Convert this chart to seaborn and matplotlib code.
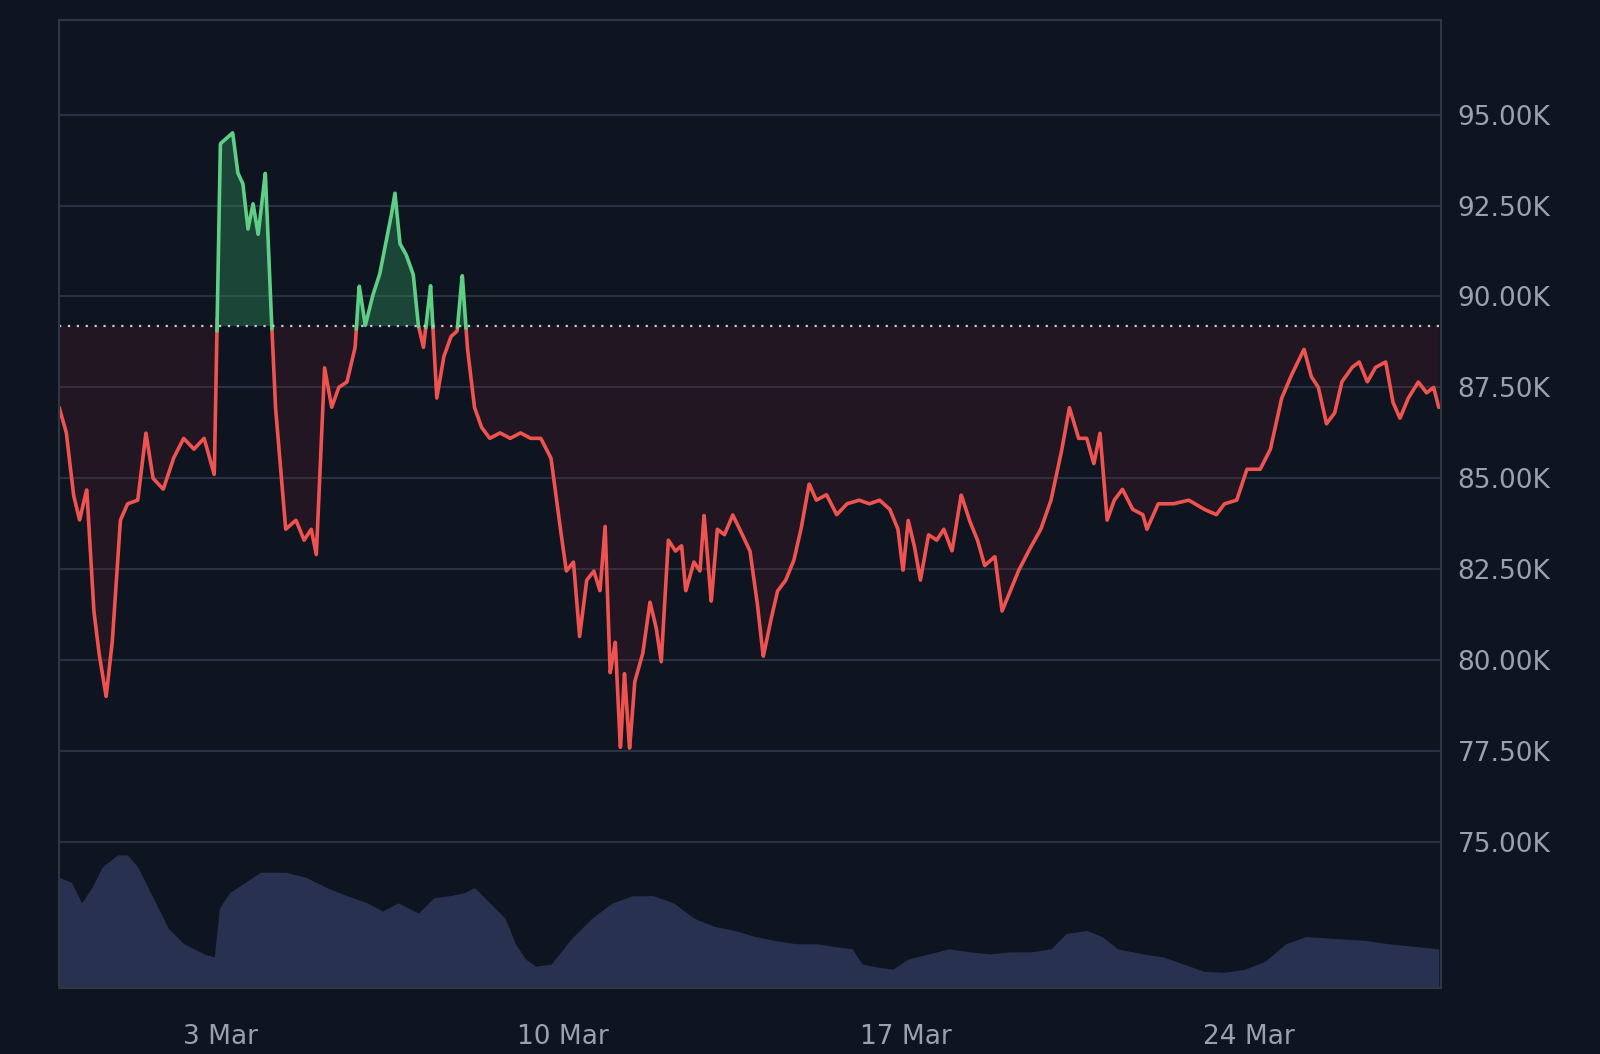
import numpy as np
import pandas as pd
import matplotlib
matplotlib.use("Agg")
import matplotlib.pyplot as plt
import seaborn as sns

# hours since 2025-03-03 00:00, price in thousands USD
price_hours = [-79,-75.5,-72,-69,-65.5,-62,-59.5,-56,-53,-49,-45.5,-40.5,-36.5,-33,-28,-23,-18,-13,-8,-3,0,3,6,8.5,11,13.5,16,18.5,22,24.5,27,29.5,32,37,41,44.5,47,51,54.5,58,62,66,68,71,74.5,78,81,83.5,85.5,88,91,94.5,97,99.5,103,106,109.5,113,116,118.5,121,124.5,128,132,137,142,147,152,157,162,166,169.5,173,176,179.5,183,186,188.5,191,193.5,196,198,200.5,203,207,210.5,213.5,216,219.5,223,226,228,232,235,237,240.5,243.5,247,251,254.5,259.5,263,266,269.5,273,277,281,284.5,288.5,292,297,302,307,313,318,323,328,332,334.5,337,340,343,347,351,354.5,358.5,363,367,371,374.5,379.5,383,387,391,396,402,407,412,416,420.5,424.5,428,431,434.5,438,442,447,452,454,459.5,467,474.5,482,488,492,498,503,509.5,514.5,520,524.5,528,531,534.5,538,542,546,549.5,554.5,558,562,566,571,574.5,578,582,587,591,594.5,597]
price_k = [86.95,86.25,84.55,83.85,84.7,81.35,80.2,79.0,80.5,83.85,84.3,84.4,86.25,85.0,84.7,85.55,86.1,85.8,86.1,85.1,94.2,94.35,94.5,93.4,93.1,91.85,92.55,91.7,93.4,90.0,86.95,85.25,83.6,83.85,83.3,83.6,82.9,88.05,86.95,87.5,87.65,88.6,90.3,89.2,90.0,90.6,91.45,92.15,92.85,91.45,91.15,90.6,89.2,88.6,90.3,87.2,88.35,88.9,89.05,90.6,88.6,86.95,86.4,86.1,86.25,86.1,86.25,86.1,86.1,85.55,83.85,82.45,82.7,80.65,82.2,82.45,81.9,83.7,79.65,80.5,77.55,79.65,77.55,79.4,80.2,81.6,80.9,79.95,83.3,83.0,83.15,81.9,82.7,82.45,84.0,81.6,83.6,83.45,84.0,83.6,83.0,81.6,80.1,81.05,81.9,82.2,82.75,83.6,84.85,84.4,84.55,84.0,84.3,84.4,84.3,84.4,84.15,83.6,82.45,83.85,83.15,82.2,83.45,83.3,83.6,83.0,84.55,83.85,83.3,82.6,82.85,81.35,81.9,82.45,83.0,83.6,84.4,85.7,86.95,86.1,86.1,85.4,86.25,83.85,84.4,84.7,84.15,84.0,83.6,84.3,84.3,84.4,84.15,84.0,84.3,84.4,85.25,85.25,85.8,87.2,87.8,88.2,88.55,87.8,87.5,86.5,86.8,87.65,88.05,88.2,87.65,88.05,88.2,87.1,86.65,87.2,87.65,87.35,87.5,86.95]

vol_hours = [-79,-73,-68,-63,-58,-50.5,-45.5,-40.5,-33,-25.5,-18,-8,-3,-0.5,4.5,12,19.5,24.5,32,42,52,62,72,79.5,87,97,104.5,112,119.5,124.5,132,139.5,144.5,149.5,154.5,162,172,182,192,202,212,222,232,242,252,262,272,282,292,302,309.5,314.5,322,329.5,337,347,357,367,377,387,397,407,414.5,424.5,432,439.5,452,462,472,482,492,502,512,522,532,547,562,572,587,597]
vol_size = [108,103,83,98,118,130,130,118,88,58,43,33,30,78,93,103,113,113,113,108,98,90,83,75,83,73,88,90,93,98,83,68,43,28,21,23,48,68,83,90,90,83,68,60,56,50,46,43,43,40,38,23,20,18,28,33,38,35,33,35,35,38,53,56,50,38,33,30,23,16,15,18,26,43,50,48,46,43,40,38]

base_k = 89.19
yticks = [75, 77.5, 80, 82.5, 85, 87.5, 90, 92.5, 95]
xtick_hours = [0, 168, 336, 504]
xtick_labels = ["3 Mar", "10 Mar", "17 Mar", "24 Mar"]

BG = "#0f1421"
GRID = "#2a3142"
RED = "#ef5350"
GREEN = "#5fcf86"
TXT = "#9aa0ad"

sns.set_theme(style="dark")
plt.rcParams['font.family'] = ['DejaVu Sans']

fig = plt.figure(figsize=(16, 10.54), dpi=100)
fig.patch.set_facecolor(BG)
ax = fig.add_axes([0.037, 0.063, 0.8635, 0.918])
ax.set_facecolor(BG)

axv = ax.twinx()
axv.set_zorder(0)
ax.set_zorder(1)
ax.patch.set_visible(False)
axv.set_facecolor(BG)
vol_df = pd.DataFrame({"h": vol_hours, "v": vol_size})
axv.fill_between(vol_df.h, 0, vol_df.v, color="#293150", linewidth=0)
axv.set_ylim(0, 948)
axv.set_yticks([])
axv.grid(False)
for s in axv.spines.values():
    s.set_visible(False)

df = pd.DataFrame({"h": price_hours, "p": price_k})
fine = np.linspace(df.h.min(), df.h.max(), 6000)
pf = np.interp(fine, df.h, df.p)
above = pf >= base_k
ax.fill_between(fine, base_k, pf, where=above, interpolate=True, color="#2f8f5a", alpha=0.4, linewidth=0)
ax.fill_between(fine, base_k, pf, where=~above, interpolate=True, color="#6a2228", alpha=0.2, linewidth=0)
pb = np.where(~above | np.roll(~above, 1) | np.roll(~above, -1), pf, np.nan)
pa2 = np.where(above | np.roll(above, 1) | np.roll(above, -1), pf, np.nan)
ax.plot(fine, pb, color=RED, lw=2.6)
ax.plot(fine, pa2, color=GREEN, lw=2.6)
ax.axhline(base_k, color="#c8ccd4", ls=(0, (1, 3)), lw=1.6)

ax.set_xlim(-79, 598)
ax.set_ylim(71.0, 97.6)
ax.set_yticks(yticks)
ax.set_yticklabels([f"{v:.2f}K" for v in yticks])
ax.yaxis.tick_right()
ax.set_xticks(xtick_hours)
ax.set_xticklabels(xtick_labels)
ax.tick_params(colors=TXT, labelsize=19, length=0, pad=12)
ax.tick_params(axis="x", pad=26)
ax.grid(True, axis="y", color=GRID, lw=1.5)
ax.grid(False, axis="x")
for s in ax.spines.values():
    s.set_color("#2f3646")
    s.set_linewidth(1.5)

fig.savefig("out.png", dpi=100, facecolor=BG)
